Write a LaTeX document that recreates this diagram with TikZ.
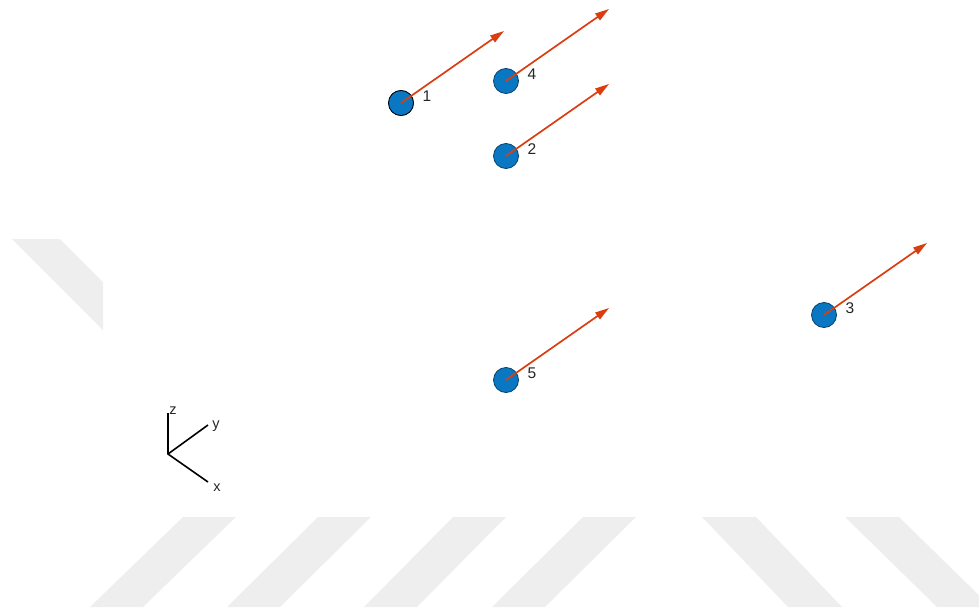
\documentclass[tikz,border=0pt]{standalone}
\usepackage{fontspec}
\setmainfont{Liberation Sans}
\usetikzlibrary{arrows.meta}
\definecolor{bodyblue}{HTML}{0A77C2}
\definecolor{vecred}{HTML}{DA3D10}
\definecolor{markgray}{HTML}{EEEEEE}
\definecolor{labgray}{HTML}{262626}
\tikzset{
    body/.style={circle, fill=bodyblue, draw=bodyblue!55!black, line width=0.8pt, minimum size=25pt, inner sep=0pt},
    vel/.style={vecred, line width=1.7pt, -{Triangle[length=14pt,width=8pt]}},
    num/.style={text=labgray, font=\fontsize{15.5}{15.5}\selectfont, inner sep=0pt},
    axlab/.style={text=labgray, font=\fontsize{14.5}{14.5}\selectfont, inner sep=0pt}
}
\begin{document}
\begin{tikzpicture}[x=1pt,y=-1pt]
        \useasboundingbox (0,0) rectangle (979,610);
        % watermark stripes
        \fill[markgray] (12,239) -- (60,239) -- (103,282) -- (103,330) -- cycle;
        \foreach \top / \bot in {183/90, 318/227, 453/364, 583/492}
        {
            \fill[markgray] (\top,517) -- (\top+53,517) -- (\bot+53,607) -- (\bot,607) -- cycle;
        }
        \foreach \top / \bot in {702/788, 845/937}
        {
            \fill[markgray] (\top,517) -- (\top+54,517) -- (\bot+54,607) -- (\bot,607) -- cycle;
        }
        % bodies and velocity vectors
        \foreach \id / \x / \y in {1/401/103, 2/506/156, 3/824/315, 4/506/81, 5/506/380}
        {
            \node[body] (n\id) at (\x,\y) {};
            \coordinate (t\id) at (\x+103,\y-72);
            \node[num] (l\id) at (\x+26,\y-7) {\id};
        }
        \node[body, draw=black] at (n1) {};
        \foreach \id in {1,...,5}
        {
            \draw[vel] (n\id.center) -- (t\id);
        }
        % axes triad
        \coordinate (o) at (168,454);
        \coordinate (ex) at (208,482);
        \coordinate (ey) at (208,425);
        \coordinate (ez) at (168,413);
        \draw[black, line width=1.6pt] (ez) -- (o) -- (ex);
        \draw[black, line width=1.6pt] (o) -- (ey);
        \node[axlab] (lx) at (217,488) {x};
        \node[axlab] (ly) at (216,426) {y};
        \node[axlab] (lz) at (173,411) {z};
    \end{tikzpicture}
\end{document}
